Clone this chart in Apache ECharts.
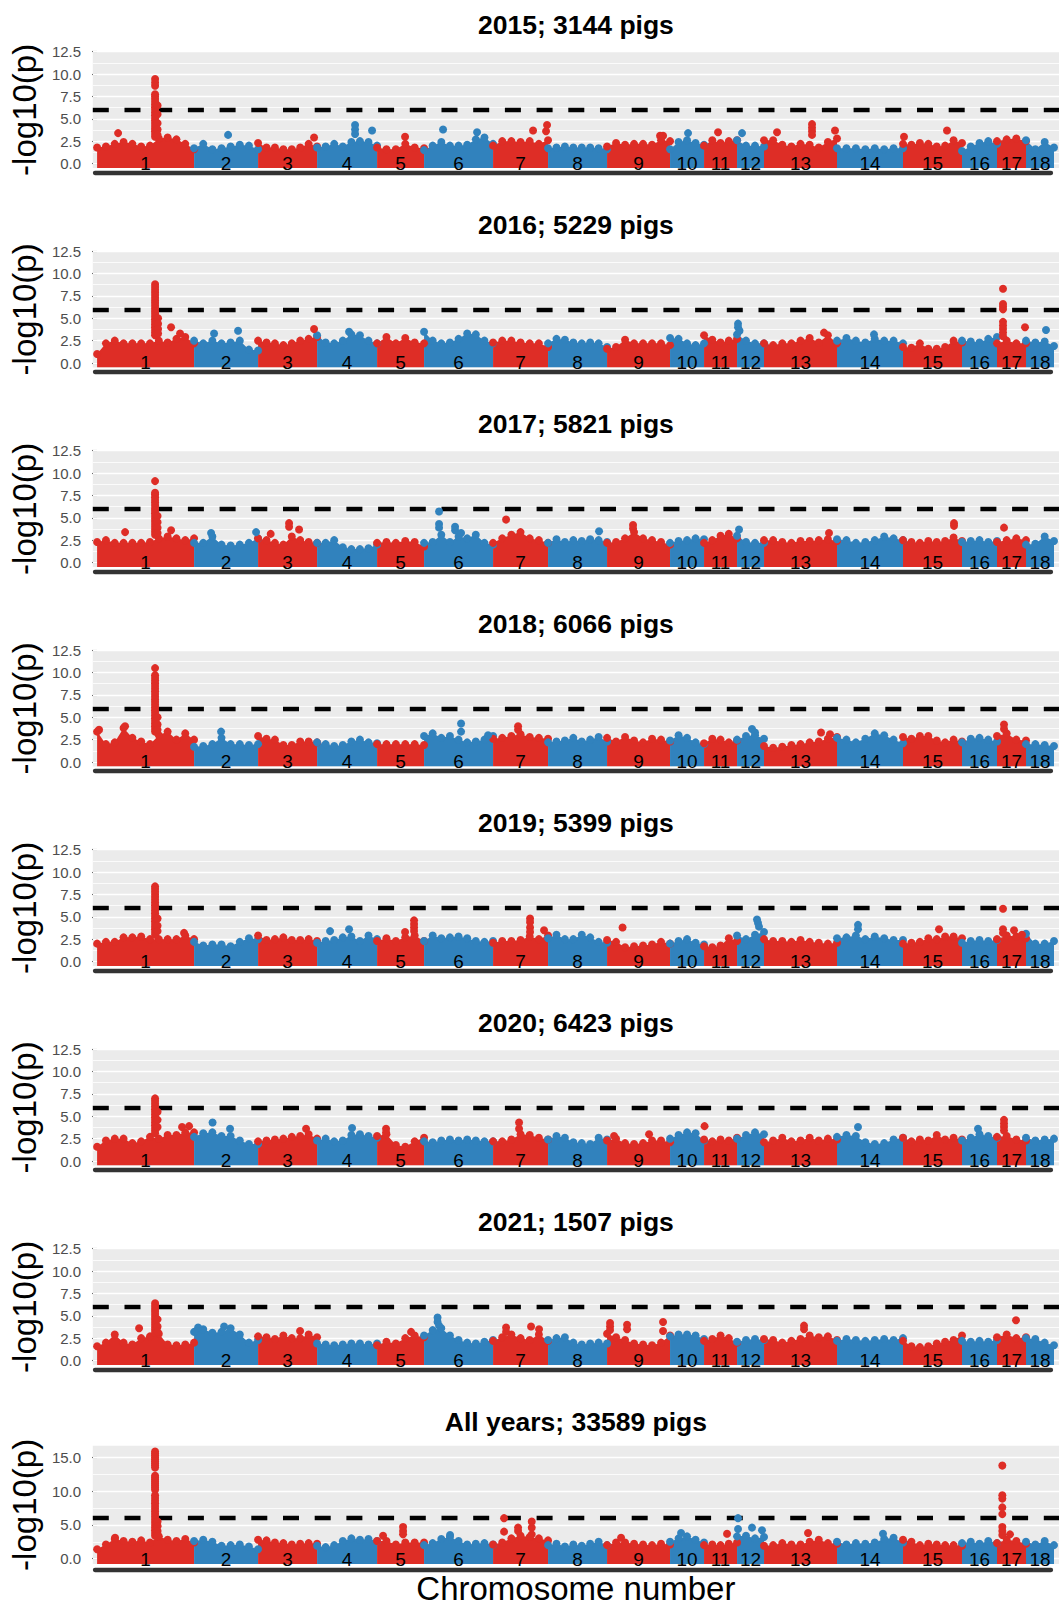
<!DOCTYPE html>
<html><head><meta charset="utf-8">
<script src="https://cdn.jsdelivr.net/npm/echarts@6/dist/echarts.min.js"></script>
<style>html,body{margin:0;padding:0;background:#fff}#c{width:1059px;height:1606px}</style>
</head><body><div id="c"></div>
<script>
// ---------------- data ----------------
const chrNames = ['1','2','3','4','5','6','7','8','9','10','11','12','13','14','15','16','17','18'];
// relative chromosome spans on the x axis
const chrLen = [97,64,59,60,47,69,55,59,63,34,33,27,73,66,59,35,29,28];
const panelTitles = ['2015; 3144 pigs','2016; 5229 pigs','2017; 5821 pigs','2018; 6066 pigs',
  '2019; 5399 pigs','2020; 6423 pigs','2021; 1507 pigs','All years; 33589 pigs'];
const yTicksYear = [0,2.5,5,7.5,10,12.5];
const yTicksAll = [0,5,10,15];
const threshold = 6;

// upper edge of the dense SNP band, per chromosome (-log10 p), read left to right
const env2015 = [[1.8,1.9,2.2,2.4,2.2,1.9,2.0,2.8,2.9,2.7,2.2,1.6],[1.7,2.2,1.6,1.7,1.9,2.1,2.0,1.6],[2.3,1.8,1.8,1.6,1.6,1.8,2.2,1.9],[1.8,1.9,2.2,1.9,2.4,2.5,2.4,2.0],[1.8,1.6,1.6,2.2,1.8,1.7],[1.5,2.0,2.4,2.0,2.0,2.1,2.7,2.9,2.2],[2.0,2.5,2.5,2.4,2.5,2.2,2.6],[1.7,1.8,1.9,1.8,1.8,1.8,1.7,1.6],[1.9,2.3,2.1,2.2,2.2,2.1,2.6,2.5],[1.6,2.4,2.6,2.3,2.1],[2.0,2.6,2.3,2.5,2.6],[2.6,2.0,2.0,1.9],[2.6,2.6,2.1,1.9,2.2,2.1,1.8,2.4,2.8],[1.7,1.7,1.7,1.6,1.7,1.6,1.7,1.7],[2.2,2.1,2.3,2.2,1.9,2.0,2.6,2.3],[1.4,1.9,2.3,2.5,2.2],[2.5,2.7,2.8,2.5],[2.6,1.6,2.4,1.8]];
const env2016 = [[1.0,2.2,2.5,2.2,2.2,2.2,2.2,2.5,2.3,2.7,2.9,2.2],[2.5,2.2,2.5,2.2,2.3,2.5,1.5,1.4],[2.5,2.3,2.2,2.0,2.2,2.5,2.7,2.9],[3.1,2.3,2.2,2.5,3.2,3.1,2.5,2.2],[2.2,2.9,2.2,2.8,2.3,2.2],[3.5,2.5,2.2,2.3,2.7,3.3,3.2,2.5,2.2],[2.3,2.5,2.5,2.3,2.2,2.2,1.8],[2.2,2.7,2.6,2.3,2.2,2.3,2.2,1.8],[1.6,1.8,2.6,2.2,2.2,2.2,2.2,2.0],[2.8,2.7,2.2,2.0,2.2],[3.1,2.6,2.3,2.5,2.7],[3.2,2.5,2.2,2.2],[2.2,2.0,2.2,2.2,2.5,2.8,2.3,3.1,2.2],[2.5,2.8,2.5,2.3,2.7,2.5,2.5,2.2],[1.8,1.7,2.2,1.6,1.6,1.8,2.5,2.3],[2.5,2.4,2.3,2.7,2.9],[2.2,2.5,2.2,2.2],[2.5,2.3,2.4,1.9]];
const env2017 = [[2.3,2.5,2.2,2.2,2.2,2.2,2.3,2.7,2.9,2.7,2.5,2.7],[2.2,2.2,2.9,2.0,1.9,2.0,2.2,2.7],[2.7,2.5,2.2,2.0,2.9,2.5,2.3,2.2],[2.2,2.2,2.5,1.7,1.5,1.5,1.6,2.0],[2.2,2.3,2.2,2.4,2.3,1.8],[2.2,2.3,3.1,2.3,2.9,2.7,3.1,2.2,2.0],[2.2,2.7,3.1,3.4,2.7,2.5,2.2],[2.2,2.6,2.3,2.5,2.4,2.6,2.5,2.3],[2.2,2.3,2.7,3.4,2.7,2.5,2.3,2.0],[2.2,2.4,2.5,2.7,2.6],[2.2,2.5,3.0,3.2,2.7],[3.0,2.3,2.2,2.2],[2.5,2.5,2.3,2.2,2.4,2.4,2.5,2.6,2.4],[2.6,2.5,2.2,2.3,2.5,2.9,2.7,2.5],[2.5,2.3,2.2,2.4,2.3,2.4,2.8,2.4],[2.3,2.4,2.5,2.3,2.4],[2.3,2.5,2.7,2.5],[2.0,2.1,2.9,2.4]];
const env2018 = [[3.4,2.0,2.2,3.8,2.7,2.3,2.0,3.0,3.4,2.5,3.2,2.5],[1.7,1.8,2.0,2.7,2.0,2.0,1.9,2.0],[2.9,2.6,2.5,1.9,1.9,2.3,2.3,2.2],[2.2,2.0,1.8,1.9,2.3,2.5,2.2,2.1],[2.0,2.0,2.0,2.0,2.0,1.9],[2.9,3.2,2.7,2.9,2.5,2.2,2.3,2.5,2.9],[2.6,2.7,2.9,3.1,2.8,2.7,2.6],[2.2,2.3,2.4,2.7,2.3,2.5,2.8,2.3],[2.7,2.3,2.8,2.4,2.2,2.6,2.5,2.3],[2.4,3.0,2.7,2.2,2.0],[2.1,2.6,2.5,2.2,2.4],[2.5,2.9,3.0,2.6],[1.8,1.6,1.7,1.9,2.0,2.2,2.3,2.6,2.8],[2.7,2.5,2.2,2.6,3.2,3.0,2.5,2.1],[2.8,2.6,2.9,2.9,2.4,2.2,2.5,2.3],[2.2,2.6,2.7,2.5,2.3],[2.9,3.2,2.5,2.4],[2.0,2.0,1.9,1.8]];
const env2019 = [[2.0,2.2,2.2,2.7,2.7,2.8,2.5,2.5,2.5,2.5,2.9,2.5],[2.2,1.8,1.9,1.9,1.7,2.2,2.6,2.5],[2.9,2.4,2.5,2.7,2.4,2.4,2.5,2.3],[2.1,2.3,2.4,2.7,2.8,2.3,2.9,2.5],[2.3,2.6,2.3,2.7,2.9,2.3],[2.3,2.9,2.6,2.7,2.8,2.6,2.3,2.2,2.3],[2.1,2.3,2.3,2.4,2.8,2.5,2.9],[2.6,3.0,2.5,2.5,3.0,2.7,2.2,2.1],[2.4,2.2,1.6,1.7,1.8,1.9,2.2,2.0],[2.0,2.3,2.5,2.1,1.9],[1.7,1.6,1.8,2.6,2.3],[2.9,2.5,3.0,3.3],[2.5,2.3,2.3,2.2,2.4,2.2,2.1,2.0,2.1],[2.6,2.7,2.9,2.5,2.8,2.6,2.4,2.4],[2.0,2.1,2.2,2.6,2.5,2.8,2.8,2.6],[2.1,2.3,2.4,2.3,2.4],[2.5,2.9,2.8,2.6],[3.1,2.0,2.0,2.3]];
const env2020 = [[1.6,2.3,2.5,2.5,2.0,2.2,2.7,2.5,2.9,2.9,3.2,3.2],[2.7,3.1,3.2,2.8,2.8,2.3,1.9,1.9],[2.2,2.3,2.4,2.5,2.7,2.8,3.0,2.5],[2.3,2.5,2.2,2.3,2.9,3.0,2.8,2.6],[2.8,3.0,1.8,1.6,2.2,2.6],[2.2,2.1,2.3,2.4,2.3,2.4,2.3,2.2,2.2],[2.2,2.2,2.4,3.0,2.9,2.6,2.4],[2.4,2.8,2.6,2.1,2.0,1.9,2.6,2.4],[2.3,2.5,2.0,1.9,2.0,2.3,2.3,2.1],[2.5,2.9,3.2,3.1,2.3],[2.4,2.2,2.4,2.3,2.6],[2.5,2.9,3.2,3.0],[2.1,2.3,2.6,2.2,2.3,2.6,2.3,2.5,2.4],[2.7,2.9,2.8,2.1,1.9,2.0,2.4,2.6],[2.6,2.2,2.4,2.3,2.9,2.4,2.6,2.4],[2.3,2.6,3.0,2.8,2.6],[2.7,2.8,2.4,2.3],[2.6,2.3,2.4,2.5]];
const env2021 = [[1.6,2.0,2.9,2.0,1.8,2.5,2.7,3.0,1.8,1.7,1.8,2.0],[3.2,3.5,3.1,3.2,3.6,2.9,2.0,2.3],[2.7,2.6,2.4,2.8,2.5,2.5,2.9,2.6],[1.9,1.8,1.7,1.8,1.9,1.9,1.8,1.9],[1.7,2.1,1.9,2.5,2.8,2.6],[2.8,3.4,3.6,2.8,2.3,2.0,1.9,2.1,2.3],[2.2,2.6,2.9,2.5,2.3,2.9,2.2],[2.3,2.5,2.6,2.0,1.8,1.9,2.0,1.9],[3.0,2.6,2.3,1.9,1.8,1.7,2.0,2.8],[2.7,2.9,2.9,2.8,2.4],[2.2,2.4,2.8,2.5,2.0],[2.1,2.3,2.4,2.3],[2.4,2.3,2.0,2.2,2.4,2.8,2.6,2.7,2.3],[2.2,2.4,2.3,2.2,2.3,2.4,2.3,2.5],[2.2,1.6,1.5,1.6,1.9,2.1,2.3,2.8],[2.2,2.1,2.2,2.1,2.3],[2.6,2.9,2.5,2.6],[2.5,2.4,2.0,1.7]];
const envAll = [[1.4,2.1,2.9,2.6,2.5,2.7,2.4,3.3,2.8,2.6,2.9,2.4],[2.6,2.8,2.5,1.9,2.0,2.1,1.8,1.4],[2.8,2.7,2.4,2.3,2.1,2.2,2.3,2.2],[1.9,1.7,2.0,2.6,3.0,2.8,2.9,2.6],[2.6,2.6,2.1,2.4,2.4,2.4],[2.0,2.3,2.9,3.2,2.6,2.1,2.2,2.3,2.1],[2.1,2.4,3.0,3.4,3.2,3.0,2.7],[2.0,2.2,1.8,2.1,1.9,2.2,2.5,2.0],[2.0,2.4,2.4,2.2,2.1,2.0,2.2,2.1],[2.5,3.0,3.3,2.8,2.4],[2.0,2.1,2.0,2.2,2.4],[3.3,3.4,3.0,3.2],[1.9,2.0,2.3,2.1,2.1,2.5,2.8,2.3,2.2],[2.5,2.1,2.3,2.2,2.4,2.9,3.1,2.4],[2.8,2.5,2.0,2.2,2.1,2.0,2.0,1.9],[2.3,2.5,2.2,2.6,2.3],[2.3,2.8,2.6,2.2],[2.5,2.1,2.6,2.0]];

// SNPs standing above the band: [chromosome, position within chromosome, -log10 p values...]
const hits2015 = [[1,21,3.4],[1,58,9.45,9.05,8.7,7.75,7.5,7.2,6.9,6.6,6.3,6.0,5.7,5.4,5.1,4.8,4.5,4.2,3.9,3.6,3.3,3.0],[1,60.5,6.5,5.5,4.5,3.8,3.2],[2,34,3.2],[3,56,2.9],[4,38,4.3,3.8,3.3],[4,55,3.7],[5,28,3.0],[6,19,3.8],[6,53,3.5],[7,40,3.7],[7,53,3.6],[7,54,4.3],[9,53,3.1],[9,56,3.1],[10,18,3.4],[11,14,3.5],[12,5,3.4],[13,13,3.5],[13,48,4.4,4.0,3.6,3.2],[13,71,3.7],[15,1,3.0],[15,44,3.7]];
const hits2016 = [[1,58,8.8,8.5,8.2,7.9,7.6,7.3,7.0,6.7,6.4,6.1,5.8,5.5,5.2,4.9,4.6,4.3,4.0,3.7,3.4,3.1],[1,61,5.0,4.4,3.8,3.3],[1,74,4.0],[1,83,3.3],[2,20,3.3],[2,44,3.6],[3,56,3.8],[4,32,3.5],[12,1,4.4,4.0],[12,2.5,3.6],[13,60,3.4],[14,37,3.2],[17,6,8.3,6.6,6.3,6.0,4.6,4.2,3.8,3.4,3.0],[17,28,4.0],[18,20,3.7]];
const hits2017 = [[1,28,3.4],[1,58,9.1,7.8,7.6,7.3,7.0,6.7,6.4,6.1,5.8,5.5,5.2,4.9,4.6,4.3,4.0,3.7,3.4,3.1],[1,60.5,5.2,4.5,3.9,3.3],[1,74,3.6],[2,17,3.3],[2,62,3.4],[3,12.6,3.2],[3,31,4.4,4.0],[3,41,3.7],[6,15,5.7,4.3,3.9],[6,31,4.0,3.6],[6,37,3.3],[7,13,4.8],[8,51,3.5],[9,26,4.2,3.8],[12,2,3.7],[13,65,3.3],[15,51,4.4,4.1],[17,7,3.9]];
const hits2018 = [[1,2,3.6],[1,28,4.0],[1,58,10.5,9.7,9.4,9.1,8.8,8.5,8.2,7.9,7.6,7.3,7.0,6.7,6.4,6.1,5.8,5.5,5.2,4.9,4.6,4.3,4.0,3.7,3.4],[1,60.5,5.0,4.2,3.6],[2,27,3.4],[6,37,4.3,3.4],[6,64,3.0],[7,25,4.0,3.6],[12,15,3.7],[12,18,3.3],[13,57,3.3],[13,66,3.1],[17,7,4.2,3.7]];
const hits2019 = [[1,58,8.4,8.1,7.8,7.5,7.2,6.9,6.6,6.3,6.0,5.7,5.4,5.1,4.8,4.5,4.2,3.9,3.6,3.3,3.0],[1,60.5,4.8,4.0,3.4],[1,87,3.2],[4,13,3.4],[4,32,3.6],[5,28,3.3],[5,37,4.6,4.2,3.8,3.4],[7,37,4.8,4.4,3.8,3.3],[7,51,3.5],[9,15.5,3.8],[12,20,4.7],[12,21,4.3],[12,22,3.9],[14,21,4.1,3.6],[15,36,3.6],[17,6,5.9,3.6,3.2],[17,17,3.5],[17,25,3.0]];
const hits2020 = [[1,58,7.0,6.7,6.4,6.1,5.8,5.5,5.2,4.9,4.6,4.3,4.0,3.7,3.4,3.1],[1,60.5,5.5,4.6,3.8],[1,85,3.8],[1,92,3.9],[2,18.5,4.3],[2,36,3.6],[3,48,3.6],[4,35,3.7],[5,9,3.6,3.2],[7,26,4.3,3.6],[9,7,2.8],[9,42,3.0],[11,0.5,3.9],[14,21,3.8],[16,16,3.6],[17,7,4.6,4.2,3.8,3.4]];
const hits2021 = [[1,42,3.6],[1,58,6.4,6.1,5.8,5.5,5.2,4.9,4.6,4.3,4.0,3.7,3.4,3.1],[1,60.5,4.6,3.8,3.2],[2,4,3.7],[2,30,3.8],[3,42,3.3],[5,34,3.2],[6,13.5,4.8,4.3],[6,15,3.9],[7,13,3.7,3.2],[7,38,3.8],[7,46,3.5],[9,3,4.2,3.8,3.4],[9,20,4.0,3.5],[9,56,4.3,3.3],[13,40,3.9,3.5],[17,19,4.5]];
const hitsAll = [[1,18,3.1],[1,58,15.9,15.6,15.3,15.0,14.7,14.4,14.1,13.8,13.5,12.3,12.0,11.7,11.4,11.1,10.8,10.5,10.2,9.4,9.0,8.6,8.2,7.8,7.4,7.0,6.6,6.2,5.8,5.4,5.0,4.6,4.2,3.8,3.4],[1,60.5,5.5,4.8,4.1,3.6,3.3],[5,6,3.4],[5,26,4.7,4.1,3.6],[6,26,3.5],[7,11,6.0,4.0],[7,25,4.6,4.1],[7,38.7,5.5,4.6,3.6],[9,14,3.1],[10,11,3.8],[11,23,3.7],[12,1,6.0,4.4],[12,15,4.6],[12,25,4.2],[13,44,3.8],[14,46,3.7],[17,5.3,13.8,9.4,8.9,7.6,6.6,4.7,4.1,3.5],[17,13,3.6]];

const envs = [env2015, env2016, env2017, env2018, env2019, env2020, env2021, envAll];
const hitsList = [hits2015, hits2016, hits2017, hits2018, hits2019, hits2020, hits2021, hitsAll];

// ---------------- chart ----------------
const RED = '#DE2D26', BLUE = '#3182BD';
const FONT = '"Liberation Sans", Arial, Helvetica, sans-serif';
const chrStart = []; let acc = 0;
for (const l of chrLen) { chrStart.push(acc); acc += l; }
const chrCenter = chrLen.map((l, i) => chrStart[i] + l / 2);
const nearestChr = v => { let b = 0; chrCenter.forEach((c, i) => { if (Math.abs(c - v) < Math.abs(chrCenter[b] - v)) b = i; }); return b; };

const grid = [], xAxis = [], yAxis = [], series = [], graphic = [];
for (let k = 0; k < 8; k++) {
  const oy = 199.5 * k;
  const all = k === 7;
  const top = all ? 1445.7 : 51.7 + oy;
  const bottom = all ? 1565 : 168 + oy;
  const yMin = all ? -0.8 : -0.5, yMax = all ? 16.75 : 12.5;
  const ticks = all ? yTicksAll : yTicksYear;
  const minorStep = all ? 2.5 : 1.25;
  const gi = grid.length;
  grid.push({left: 92.7, right: 0, top: top, height: bottom - top, show: true, backgroundColor: '#EBEBEB', borderWidth: 0, z: 0});
  const xa = {gridIndex: gi, type: 'value', min: -4.3, max: 962, z: 10,
    axisLine: {show: false}, axisTick: {show: false}, splitLine: {show: false},
    axisLabel: {customValues: chrCenter, formatter: v => chrNames[nearestChr(v)], margin: -14.5, fontSize: 19, color: '#000', fontFamily: FONT}};
  if (all) Object.assign(xa, {name: 'Chromosome number', nameLocation: 'middle', nameGap: 8,
    nameTextStyle: {fontSize: 33, color: '#000', fontFamily: FONT}});
  xAxis.push(xa);
  yAxis.push({gridIndex: gi, type: 'value', min: yMin, max: yMax,
    axisLine: {show: false}, splitLine: {show: false},
    axisTick: {show: true, customValues: ticks, length: 5, lineStyle: {color: '#333333', width: 1.1}},
    axisLabel: {customValues: ticks, formatter: v => v.toFixed(1), margin: 11.7, fontSize: 15, color: '#4D4D4D', fontFamily: FONT},
    name: '-log10(p)', nameLocation: 'middle', nameRotate: 90, nameGap: 51.5,
    nameTextStyle: {fontSize: 33, color: '#000', fontFamily: FONT}});
  // thick axis bar under the panel
  const bi = grid.length;
  const barY = bottom + 4.3;
  grid.push({left: 95, width: 956, top: barY - 1, height: 1, show: false});
  xAxis.push({gridIndex: bi, type: 'value', min: 0, max: 1,
    axisLine: {show: true, onZero: false, lineStyle: {color: '#333333', width: 4.3}},
    axisTick: {show: false}, axisLabel: {show: false}, splitLine: {show: false}});
  yAxis.push({gridIndex: bi, type: 'value', min: 0, max: 1, show: false});

  // grid lines + threshold line (kept beneath the points)
  const ml = [];
  let idx = 0;
  for (let v = 0; v <= yMax + 1e-9; v += minorStep, idx++) {
    ml.push({yAxis: v, lineStyle: {color: '#FFFFFF', width: idx % 2 === 0 ? 1.4 : 0.8, type: 'solid'}});
  }
  ml.push({yAxis: threshold, lineStyle: {color: '#000000', width: 4.3, type: [16, 15.7]}});
  series.push({type: 'line', xAxisIndex: gi, yAxisIndex: gi, data: [[-100, -100]], symbol: 'none', z: 1, silent: true, animation: false,
    markLine: {silent: true, z: 1, symbol: ['none', 'none'], label: {show: false}, animation: false, data: ml}});

  // dense SNP band per chromosome
  envs[k].forEach((vals, c) => {
    const n = vals.length, len = chrLen[c], s = chrStart[c];
    const col = c % 2 === 0 ? RED : BLUE;
    series.push({type: 'line', xAxisIndex: gi, yAxisIndex: gi,
      data: vals.map((v, i) => [s + i * len / (n - 1), v]),
      symbol: 'circle', symbolSize: 8, showSymbol: true, showAllSymbol: true,
      itemStyle: {color: col, borderWidth: 0, opacity: 1}, lineStyle: {width: 0, color: col},
      areaStyle: {color: col, opacity: 1, origin: 'start'},
      z: 2, silent: true, animation: false});
  });
  // standout SNPs
  const pts = [];
  hitsList[k].forEach(h => {
    const c = h[0], pos = h[1];
    for (let j = 2; j < h.length; j++) pts.push({value: [chrStart[c - 1] + pos, h[j]], itemStyle: {color: c % 2 === 1 ? RED : BLUE, opacity: 1}});
  });
  series.push({type: 'scatter', xAxisIndex: gi, yAxisIndex: gi, data: pts, symbol: 'circle', symbolSize: 8,
    itemStyle: {opacity: 1, borderWidth: 0}, z: 3, silent: true, animation: false});

  graphic.push({type: 'text', x: 575.9, y: all ? 1421.7 : 25 + oy, silent: true,
    style: {text: panelTitles[k], fill: '#000', fontSize: 26.5, fontWeight: 'bold', fontFamily: FONT,
      align: 'center', verticalAlign: 'middle', textAlign: 'center', textVerticalAlign: 'middle'}});
}

const chart = echarts.init(document.getElementById('c'), null, {renderer: 'svg'});
chart.setOption({
  animation: false,
  backgroundColor: '#FFFFFF',
  textStyle: {fontFamily: FONT},
  grid: grid, xAxis: xAxis, yAxis: yAxis, series: series, graphic: graphic
});
</script>
</body></html>
